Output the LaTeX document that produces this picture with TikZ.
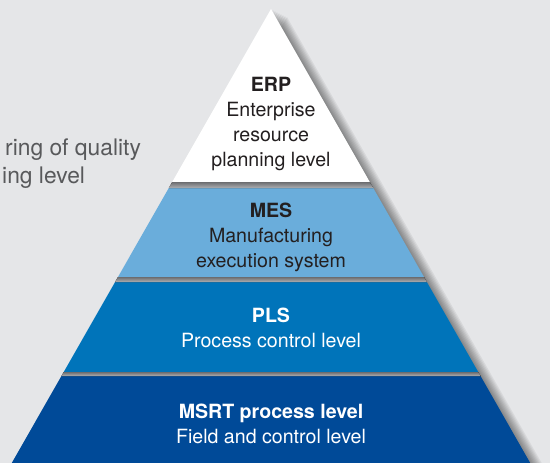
\documentclass[tikz,border=0pt]{standalone}
\usepackage{fontspec}
\setmainfont{TeX Gyre Heros}
\usetikzlibrary{positioning}
\definecolor{bggray}{RGB}{229,230,232}
\definecolor{mesblue}{RGB}{106,173,219}
\definecolor{plsblue}{RGB}{0,116,186}
\definecolor{msrtblue}{RGB}{0,74,152}
\definecolor{textgray}{RGB}{88,89,91}
\definecolor{darktext}{RGB}{35,31,32}
\definecolor{gapgray}{RGB}{108,109,112}
% one slice of the pyramid, between two heights
\newcommand{\PyrSlice}[3]{\fill[#3] ({271-0.571*(#1-9)},#1) -- ({271+0.571*(#1-9)},#1)
  -- ({271+0.571*(#2-9)},#2) -- ({271-0.571*(#2-9)},#2) -- cycle;}
\begin{document}
\begin{tikzpicture}[x=1pt,y=-1pt,
    lvl/.style={align=center,anchor=base,inner sep=0pt,font=\fontsize{19.6}{25}\selectfont},
    side/.style={anchor=base west,inner sep=0pt,text=textgray,font=\fontsize{22.8}{28}\selectfont}]

  \useasboundingbox (0,0) rectangle (550,463);
  \fill[bggray] (0,0) rectangle (550,463);
  \clip (0,0) rectangle (550,463);

  % soft shadow to the right
  \foreach \s in {1,...,8}
    \fill[black,opacity=.06] ({271+2*\s},{9+\s}) -- ({540+2*\s},{480+\s}) -- ({2+2*\s},{480+\s}) -- cycle;

  % slices
  \PyrSlice{9}{182}{white}
  \foreach \t/\b/\c in {188/277/mesblue, 282/372/plsblue, 376/480/msrtblue}
    {\PyrSlice{\t}{\b}{fill=\c}}
  % shadows under the slices
  \foreach \t/\b in {182/188, 277/282, 372/376}
    {\PyrSlice{\t}{\b}{top color=gapgray, bottom color=gapgray!45!bggray}}

  \node[lvl,text=darktext] (erp) at (271,166) {\textbf{ERP}\\Enterprise\\resource\\planning level};
  \node[lvl,text=darktext] (mes) at (271,267) {\textbf{MES}\\Manufacturing\\execution system};
  \node[lvl,text=white] (pls) at (271,347) {\textbf{PLS}\\Process control level};
  \node[lvl,text=white] (msrt) at (271,443) {\textbf{MSRT process level}\\Field and control level};

  \node[side] (qualA) at (5,155) {ring of quality};
  \node[side] (qualB) at (2,183) {ing level};
\end{tikzpicture}
\end{document}
